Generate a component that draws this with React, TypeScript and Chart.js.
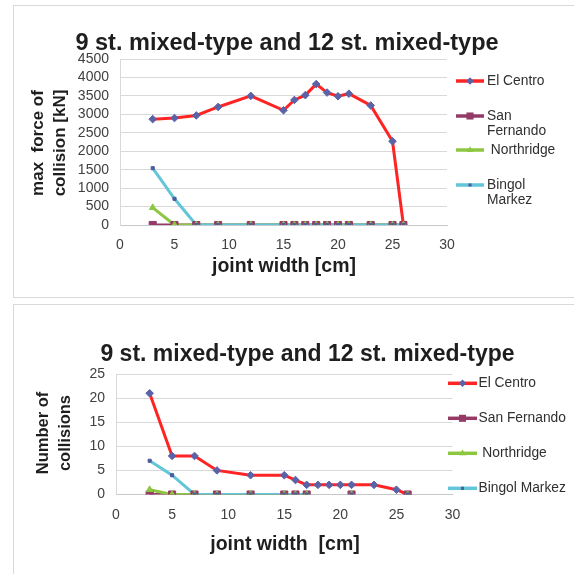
import React, { useEffect, useRef } from 'react';
import { Chart, registerables } from 'chart.js';

Chart.register(...registerables);

const FONT = '"Liberation Sans", Arial, Helvetica, sans-serif';

// ---------- shared text ----------
const chartTitle = '9 st. mixed-type and 12 st. mixed-type';
const seriesNames = ['El Centro', 'San Fernando', 'Northridge', 'Bingol Markez'];

// ---------- chart 1: max force of collision [kN] ----------
const forceX = [3, 5, 7, 9, 12, 15, 16, 17, 18, 19, 20, 21, 23, 25, 26];
const forceElCentro = [2870, 2900, 2970, 3200, 3500, 3110, 3390, 3520, 3820, 3590, 3490, 3560, 3240, 2270, 0];
const forceSanFernando = [0, 0, 0, 0, 0, 0, 0, 0, 0, 0, 0, 0, 0, 0, 0];
const forceNorthridge = [470, 0, 0, 0, 0, 0, 0, 0, 0, 0, 0, 0, 0, 0, 0];
const forceBingolMarkez = [1540, 710, 0, 0, 0, 0, 0, 0, 0, 0, 0, 0, 0, 0, 0];
const forceYMax = 4500;
const forceYStep = 500;
const forceLegendLabels = [['El Centro'], ['San', 'Fernando'], [' Northridge'], ['Bingol', 'Markez']];
const forceYTitle = ['max  force of', 'collision [kN]'];
const forceXTitle = 'joint width [cm]';

// ---------- chart 2: number of collisions ----------
const countX = [3, 5, 7, 9, 12, 15, 16, 17, 18, 19, 20, 21, 23, 25, 26];
const countElCentro = [21, 8, 8, 5, 4, 4, 3, 2, 2, 2, 2, 2, 2, 1, 0];
const countSanFernando = [0, 0, 0, 0, 0, 0, 0, 0, null, null, null, 0, null, null, 0];
const countNorthridge = [1, 0, 0, 0, 0, 0, 0, 0, null, null, null, 0, null, null, 0];
const countBingolMarkez = [7, 4, 0, 0, 0, 0, 0, 0, null, null, null, 0, null, null, 0];
const countYMax = 25;
const countYStep = 5;
const countLegendLabels = [['El Centro'], ['San Fernando'], [' Northridge'], ['Bingol Markez']];
const countYTitle = ['Number of', 'collisions'];
const countXTitle = 'joint width  [cm]';

const xMin = 0;
const xMax = 30;
const xStep = 5;

// ---------- styles ----------
const lineColors = ['#FF2424', '#953A66', '#8DC641', '#62C6D8'];
const markerColors = ['#5A62A8', '#953A66', '#8DC641', '#4F5C9E'];
const markerStyles = ['rectRot', 'rect', 'triangle', 'rect'];
const markerRadii = [3.8, 5, 3.8, 2.2];

type Spec = {
  width: number;
  height: number;
  padding: { top: number; right: number; left: number; bottom: number };
  yWidth: number;
  xHeight: number;
  yMax: number;
  yStep: number;
  titleX: number;
  titleY: number;
  titleSize: number;
  xTitle: string;
  xTitleX: number;
  xTitleY: number;
  xTitleSize: number;
  yTitle: string[];
  yTitleXs: number[];
  yTitleCenter: number;
  yTitleSize: number;
  legendLabels: string[][];
  legendX1: number;
  legendX2: number;
  legendTextX: number;
  legendRows: number[];
  legendLineH: number;
  legendSize: number;
};

function drawMarker(ctx: CanvasRenderingContext2D, style: string, x: number, y: number, r: number, color: string) {
  ctx.fillStyle = color;
  ctx.beginPath();
  if (style === 'rectRot') {
    ctx.moveTo(x, y - r);
    ctx.lineTo(x + r, y);
    ctx.lineTo(x, y + r);
    ctx.lineTo(x - r, y);
  } else if (style === 'rect') {
    const s = r * Math.SQRT1_2;
    ctx.rect(x - s, y - s, 2 * s, 2 * s);
  } else if (style === 'triangle') {
    ctx.moveTo(x, y - r);
    ctx.lineTo(x + r * 0.866, y + r * 0.5);
    ctx.lineTo(x - r * 0.866, y + r * 0.5);
  }
  ctx.closePath();
  ctx.fill();
}

function decorPlugin(spec: Spec) {
  return {
    id: 'decor',
    afterDraw(chart: any) {
      const ctx: CanvasRenderingContext2D = chart.ctx;
      ctx.save();
      // main title
      ctx.fillStyle = '#1e1e1e';
      ctx.textAlign = 'center';
      ctx.textBaseline = 'alphabetic';
      ctx.font = `bold ${spec.titleSize}px ${FONT}`;
      ctx.fillText(chartTitle, spec.titleX, spec.titleY);
      // x title
      ctx.font = `bold ${spec.xTitleSize}px ${FONT}`;
      ctx.fillText(spec.xTitle, spec.xTitleX, spec.xTitleY);
      // y title (rotated)
      ctx.font = `bold ${spec.yTitleSize}px ${FONT}`;
      ctx.textBaseline = 'middle';
      spec.yTitle.forEach((line, i) => {
        ctx.save();
        ctx.translate(spec.yTitleXs[i], spec.yTitleCenter);
        ctx.rotate(-Math.PI / 2);
        ctx.fillText(line, 0, 0);
        ctx.restore();
      });
      // legend
      ctx.textAlign = 'left';
      ctx.font = `${spec.legendSize}px ${FONT}`;
      spec.legendLabels.forEach((lines, i) => {
        const y = spec.legendRows[i];
        ctx.strokeStyle = lineColors[i];
        ctx.lineWidth = 3.5;
        ctx.beginPath();
        ctx.moveTo(spec.legendX1, y);
        ctx.lineTo(spec.legendX2, y);
        ctx.stroke();
        drawMarker(ctx, markerStyles[i], (spec.legendX1 + spec.legendX2) / 2, y, markerRadii[i], markerColors[i]);
        ctx.fillStyle = '#303030';
        lines.forEach((t, j) => ctx.fillText(t, spec.legendTextX, y + j * spec.legendLineH));
      });
      ctx.restore();
    },
  };
}

function buildDatasets(xs: number[], series: (number | null)[][]) {
  const pts = (vals: (number | null)[]) => xs.map((x, i) => ({ x, y: vals[i] }));
  const lines = series.map((vals, i) => ({
    label: seriesNames[i],
    data: pts(vals),
    borderColor: lineColors[i],
    backgroundColor: lineColors[i],
    borderWidth: 3,
    pointRadius: 0,
    pointHoverRadius: 0,
    tension: 0,
    fill: false,
    spanGaps: false,
    order: 20 - i,
  }));
  const marks = series.map((vals, i) => ({
    label: seriesNames[i] + ' markers',
    data: pts(vals),
    showLine: false,
    pointStyle: markerStyles[i],
    pointRadius: markerRadii[i],
    pointHoverRadius: markerRadii[i],
    pointBackgroundColor: markerColors[i],
    pointBorderColor: markerColors[i],
    pointBorderWidth: 1,
    order: 10 - i,
  }));
  return [...lines, ...marks];
}

function makeChart(canvas: HTMLCanvasElement, spec: Spec, xs: number[], series: (number | null)[][]) {
  const tickFont = { family: FONT, size: 14 };
  return new Chart(canvas, {
    type: 'line',
    data: { datasets: buildDatasets(xs, series) as any },
    options: {
      animation: false,
      responsive: false,
      maintainAspectRatio: false,
      devicePixelRatio: 1,
      events: [],
      layout: { padding: spec.padding },
      plugins: {
        legend: { display: false },
        tooltip: { enabled: false },
        title: { display: false },
      },
      scales: {
        x: {
          type: 'linear',
          min: xMin,
          max: xMax,
          ticks: {
            stepSize: xStep,
            padding: 4,
            font: tickFont,
            color: '#404040',
            maxRotation: 0,
            autoSkip: false,
            callback: (v: any) => String(v),
          },
          grid: { display: false },
          border: { display: true, color: '#c8c8c8', width: 1 },
          afterFit: (s: any) => {
            s.height = spec.xHeight;
          },
        },
        y: {
          type: 'linear',
          min: 0,
          max: spec.yMax,
          ticks: {
            stepSize: spec.yStep,
            padding: 11,
            font: tickFont,
            color: '#404040',
            autoSkip: false,
            callback: (v: any) => String(v),
          },
          grid: { color: '#d9d9d9', lineWidth: 1, drawTicks: false },
          border: { display: true, color: '#d9d9d9', width: 1 },
          afterFit: (s: any) => {
            s.width = spec.yWidth;
          },
        },
      },
    } as any,
    plugins: [decorPlugin(spec)],
  });
}

const forceSpec: Spec = {
  width: 574,
  height: 300,
  padding: { top: 59, right: 127, left: 0, bottom: 0 },
  yWidth: 120,
  xHeight: 75,
  yMax: forceYMax,
  yStep: forceYStep,
  titleX: 287,
  titleY: 50,
  titleSize: 23.5,
  xTitle: forceXTitle,
  xTitleX: 284,
  xTitleY: 272,
  xTitleSize: 19.5,
  yTitle: forceYTitle,
  yTitleXs: [38, 60],
  yTitleCenter: 143,
  yTitleSize: 17,
  legendLabels: forceLegendLabels,
  legendX1: 456,
  legendX2: 484,
  legendTextX: 487,
  legendRows: [81, 116, 150, 185],
  legendLineH: 15.5,
  legendSize: 13.8,
};

const countSpec: Spec = {
  width: 574,
  height: 274,
  padding: { top: 74, right: 121.5, left: 0, bottom: 0 },
  yWidth: 116,
  xHeight: 79.5,
  yMax: countYMax,
  yStep: countYStep,
  titleX: 307.5,
  titleY: 60.5,
  titleSize: 23,
  xTitle: countXTitle,
  xTitleX: 285,
  xTitleY: 250,
  xTitleSize: 19.5,
  yTitle: countYTitle,
  yTitleXs: [43, 65],
  yTitleCenter: 133,
  yTitleSize: 16.5,
  legendLabels: countLegendLabels,
  legendX1: 448,
  legendX2: 477,
  legendTextX: 478.5,
  legendRows: [83.3, 118.3, 153.3, 188.3],
  legendLineH: 15.5,
  legendSize: 13.8,
};

function ChartCanvas(props: { spec: Spec; xs: number[]; series: (number | null)[][]; top: number }) {
  const ref = useRef<HTMLCanvasElement | null>(null);
  useEffect(() => {
    if (!ref.current) return;
    const chart = makeChart(ref.current, props.spec, props.xs, props.series);
    return () => chart.destroy();
  }, []);
  return (
    <canvas
      ref={ref}
      width={props.spec.width}
      height={props.spec.height}
      style={{
        position: 'absolute',
        left: 0,
        top: props.top,
        width: props.spec.width,
        height: props.spec.height,
        zIndex: 2,
      }}
    />
  );
}

export default function App() {
  const box = (top: number, height: number): React.CSSProperties => ({
    position: 'absolute',
    left: 13,
    top,
    width: 640,
    height,
    border: '1px solid #d9d9d9',
    background: '#ffffff',
    boxSizing: 'border-box',
    zIndex: 1,
  });
  return (
    <div style={{ position: 'absolute', left: 0, top: 0, width: 574, height: 574, overflow: 'hidden', background: '#fff' }}>
      <div style={box(5, 293)} />
      <div style={box(304, 320)} />
      <ChartCanvas
        spec={forceSpec}
        xs={forceX}
        series={[forceElCentro, forceSanFernando, forceNorthridge, forceBingolMarkez]}
        top={0}
      />
      <ChartCanvas
        spec={countSpec}
        xs={countX}
        series={[countElCentro, countSanFernando, countNorthridge, countBingolMarkez]}
        top={300}
      />
    </div>
  );
}
